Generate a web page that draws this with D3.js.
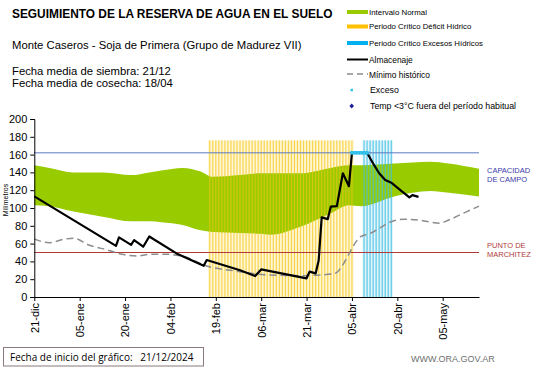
<!DOCTYPE html>
<html><head><meta charset="utf-8">
<script src="https://cdn.jsdelivr.net/npm/d3@7"></script>
<style>
body{margin:0;background:#fff;}
svg{display:block;font-family:"Liberation Sans",Arial,sans-serif;}
</style></head>
<body>
<svg id="chart" width="541" height="368"></svg>
<script>
// ---------- DATA ----------
const tickDays = [0,15,30,45,60,75,90,105,120,135];
const tickLabels = ["21-dic","05-ene","20-ene","04-feb","19-feb","06-mar","21-mar","05-abr","20-abr","05-may"];
const yTicks = [0,20,40,60,80,100,120,140,160,180,200];

const bandDays  = [0,5,13,23,32,38,42,49,55,59,68,75,78,88,98,104,108,119,131,137,147];
const bandUpper = [148,145,140,140,137,140,142,145,141,135,137,139,139,139,145,148,148,150,152,150,144];
const bandLower = [103,102,96,90,85,85,84,81,75,73,72,71,70,79,94,103,102,113,119,117,113];

const almDays = [0,27,28,32,33,36,38,47,56,57,68,73,75,90,91,93,94,95,97,98,100,102,104,105,110,112,114,116,118,121,124,125,127];
const almVals = [113,57.5,67,58.5,64,56.5,68,49,35,41.5,30,23.5,31,21,28.5,26.5,41,89.5,87.5,101.5,102,139,124.5,162,162,150,139,131.5,128.5,120,112,114.5,112.5];

const minDays = [0,5,10,13,18,24,29,34,38,44,47,50,56,68,73,76,88,99,108,111,118,122,127,134,137,143,147];
const minVals = [65,61,65,66,58.5,53,48,46,48,48,47,45,36,28.5,26,25,24,26,68,71.5,84.5,87.5,86.5,83,86.5,96,102];

const deficitDays = d3.range(58,106);   // Periodo crítico déficit hídrico
const excesoPerDays = d3.range(109,119); // Periodo crítico excesos hídricos
const stripeTop = 176;
const excesoDays = [105,106,107,108,109,110];
const excesoVals = [162,162,162,162,162,162];

const capacidadCampo = 162;
const puntoMarchitez = 50;

// ---------- SCALES ----------
const svg = d3.select("#chart");
const x = d3.scaleLinear().domain([0,147]).range([34.3,479]);
const y = d3.scaleLinear().domain([0,200]).range([297,119]);
const dayW = x(1)-x(0);

function stripes(days, pale){
  svg.append("g").selectAll("rect").data(days).enter().append("rect")
    .attr("x", d=>x(d)-dayW/2).attr("width", dayW+0.05)
    .attr("y", y(stripeTop)).attr("height", y(0)-y(stripeTop))
    .attr("fill", pale);
}
stripes(deficitDays, "#fff5cc");
stripes(excesoPerDays, "#dcf2f9");

// green band
const area = d3.area().x((d,i)=>x(bandDays[i])).y0((d,i)=>y(bandLower[i])).y1((d,i)=>y(bandUpper[i])).curve(d3.curveMonotoneX);
svg.append("path").datum(bandDays).attr("d", area).attr("fill","#99cc00");

function stripeLines(days, col, op, w){
  svg.append("g").selectAll("rect").data(days).enter().append("rect")
    .attr("x", d=>x(d)-w/2).attr("width", w)
    .attr("y", y(stripeTop)).attr("height", y(0)-y(stripeTop))
    .attr("fill", col).attr("opacity", op);
}
stripeLines(deficitDays, "#f3c416", 0.7, 1.1);
stripeLines(excesoPerDays, "#3fc0e4", 0.8, 1.2);

// reference lines
svg.append("line").attr("x1",x(0)).attr("x2",x(147)).attr("y1",y(capacidadCampo)).attr("y2",y(capacidadCampo))
  .attr("stroke","#5b7bc0").attr("stroke-width",1);
svg.append("line").attr("x1",x(0)).attr("x2",x(147)).attr("y1",y(puntoMarchitez)).attr("y2",y(puntoMarchitez))
  .attr("stroke","#b03a3a").attr("stroke-width",1);

// minimo historico
const lineMin = d3.line().x((d,i)=>x(minDays[i])).y((d,i)=>y(minVals[i])).curve(d3.curveMonotoneX);
svg.append("path").datum(minDays).attr("d", lineMin).attr("fill","none")
  .attr("stroke","#8c8c8c").attr("stroke-width",1.5).attr("stroke-dasharray","7,4");

// almacenaje
const lineAlm = d3.line().x((d,i)=>x(almDays[i])).y((d,i)=>y(almVals[i]));
svg.append("path").datum(almDays).attr("d", lineAlm).attr("fill","none")
  .attr("stroke","#000").attr("stroke-width",2.2).attr("stroke-linejoin","round");

// exceso points
svg.append("g").selectAll("rect").data(excesoDays).enter().append("rect")
  .attr("x", (d)=>x(d)-1.8).attr("y",(d,i)=>y(excesoVals[i])-1.8).attr("width",3.6).attr("height",3.6)
  .attr("fill","#33c3ec");

// ---------- AXES ----------
const yAxis = svg.append("g").attr("transform","translate("+x(0)+",0)")
  .call(d3.axisLeft(y).tickValues(yTicks).tickSize(4).tickPadding(3));
yAxis.select(".domain").attr("stroke","#000");
yAxis.selectAll("text").attr("font-size","11px").attr("fill","#000").attr("font-family","Liberation Sans, Arial, sans-serif");

const xAxis = svg.append("g").attr("transform","translate(0,"+y(0)+")")
  .call(d3.axisBottom(x).tickValues(tickDays).tickFormat((d,i)=>tickLabels[i]).tickSize(4).tickSizeOuter(0));
xAxis.select(".domain").attr("stroke","#000");
xAxis.selectAll("text").attr("font-size","11px").attr("fill","#000")
  .attr("font-family","Liberation Sans, Arial, sans-serif")
  .attr("transform","rotate(-90)").attr("text-anchor","end")
  .attr("x",-6).attr("y",0).attr("dy","0.35em");

svg.append("text").attr("transform","translate(8,200) rotate(-90)").attr("text-anchor","middle")
  .attr("font-size","7px").text("Milímetros");

// ---------- TITLES ----------
svg.append("text").attr("x",12).attr("y",18).attr("font-size","11.9px").attr("font-weight","bold").text("SEGUIMIENTO DE LA RESERVA DE AGUA EN EL SUELO");
svg.append("text").attr("x",12).attr("y",49).attr("font-size","11.3px").text("Monte Caseros - Soja de Primera (Grupo de Madurez VII)");
svg.append("text").attr("x",12).attr("y",75).attr("font-size","11.3px").text("Fecha media de siembra: 21/12");
svg.append("text").attr("x",12).attr("y",87).attr("font-size","11.3px").text("Fecha media de cosecha: 18/04");

// ---------- LEGEND ----------
const lg = svg.append("g").attr("fill","#000");
const lx0 = 347, lx1 = 368;
lg.append("rect").attr("x",lx0).attr("y",10).attr("width",lx1-lx0).attr("height",4).attr("fill","#99cc00");
lg.append("text").attr("x",369).attr("y",14.5).attr("font-size","7.9px").text("Intervalo Normal");
lg.append("rect").attr("x",lx0).attr("y",24.5).attr("width",lx1-lx0).attr("height",4).attr("fill","#ffc000");
lg.append("text").attr("x",369).attr("y",29).attr("font-size","7.8px").text("Periodo Crítico Déficit Hídrico");
lg.append("rect").attr("x",lx0).attr("y",41).attr("width",lx1-lx0).attr("height",4).attr("fill","#00b0f0");
lg.append("text").attr("x",369).attr("y",45.5).attr("font-size","7.8px").text("Periodo Crítico Excesos Hídricos");
lg.append("line").attr("x1",lx0).attr("x2",lx1).attr("y1",59.5).attr("y2",59.5).attr("stroke","#000").attr("stroke-width",2);
lg.append("text").attr("x",369).attr("y",62.5).attr("font-size","8.4px").text("Almacenaje");
lg.append("line").attr("x1",lx0).attr("x2",lx1).attr("y1",74).attr("y2",74).attr("stroke","#8c8c8c").attr("stroke-width",1.5).attr("stroke-dasharray","6,4");
lg.append("text").attr("x",369).attr("y",77.5).attr("font-size","8.4px").text("Mínimo histórico");
lg.append("rect").attr("x",350.5).attr("y",88.8).attr("width",2.5).attr("height",2.5).attr("fill","#33c3ec");
lg.append("text").attr("x",370).attr("y",93).attr("font-size","8.8px").text("Exceso");
lg.append("path").attr("d","M351.7,103.5 L354,106 L351.7,108.5 L349.4,106 Z").attr("fill","#1f1f9f");
lg.append("text").attr("x",370).attr("y",109).attr("font-size","8.8px").text("Temp <3°C fuera del período habitual");

// right labels
const rl = svg.append("g").attr("font-size","7.5px");
rl.append("text").attr("x",487).attr("y",173).attr("fill","#3a3aa8").text("CAPACIDAD");
rl.append("text").attr("x",487).attr("y",182).attr("fill","#3a3aa8").text("DE  CAMPO");
rl.append("text").attr("x",487).attr("y",248).attr("fill","#b03a3a").text("PUNTO   DE");
rl.append("text").attr("x",487).attr("y",257).attr("fill","#b03a3a").text("MARCHITEZ");

// ---------- FOOTER ----------
svg.append("rect").attr("x",3.5).attr("y",347.5).attr("width",200).attr("height",18.5).attr("fill","#fff").attr("stroke","#8a7a7a").attr("stroke-width",1);
svg.append("text").attr("x",10).attr("y",361).attr("font-size","10px").attr("font-family","Open Sans, sans-serif").attr("xml:space","preserve").text("Fecha de inicio del gráfico:   21/12/2024");
svg.append("text").attr("x",411).attr("y",362).attr("font-size","9px").attr("fill","#707070").text("WWW.ORA.GOV.AR");
</script>
</body></html>
